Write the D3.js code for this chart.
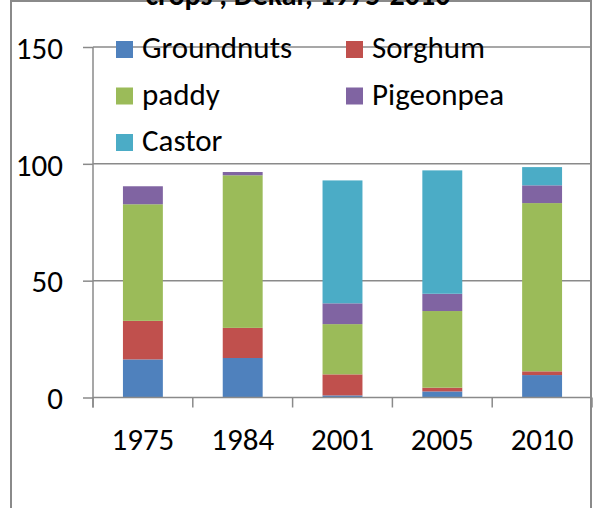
<!DOCTYPE html>
<html><head><meta charset="utf-8">
<script src="https://cdn.jsdelivr.net/npm/d3@7"></script>
<style>body{margin:0;background:#fff}svg{display:block}text{font-family:Carlito,Lato,"Open Sans",sans-serif}</style>
</head><body>
<svg id="c" width="593" height="508"></svg>
<script>
const years = ["1975","1984","2001","2005","2010"];
const seriesNames = ["Groundnuts","Sorghum","paddy","Pigeonpea","Castor"];
const groundnuts = [16.3, 16.9, 0.9, 2.6, 9.6];
const sorghum    = [16.5, 12.9, 9.0, 1.6, 1.6];
const paddy      = [49.9, 65.3, 21.5, 32.8, 72.0];
const pigeonpea  = [7.7, 1.4, 8.9, 7.4, 7.6];
const castor     = [0, 0, 52.6, 52.8, 7.8];
const yTicks = [0, 50, 100, 150];
const colors = ["#4F81BD","#C0504D","#9BBB59","#8064A2","#4BACC6"];
const titleText = "crops , Dekar, 1975-2010";

const svg = d3.select("#c");
const fs = 31;
const rows = years.map((y,i)=>({year:y, Groundnuts:groundnuts[i], Sorghum:sorghum[i], paddy:paddy[i], Pigeonpea:pigeonpea[i], Castor:castor[i]}));
const stack = d3.stack().keys(seriesNames)(rows);

const x = d3.scaleBand().domain(years).range([93, 592]).paddingInner(0.6).paddingOuter(0.3);
const y = d3.scaleLinear().domain([0,150]).range([397.5, 47]);
const color = d3.scaleOrdinal().domain(seriesNames).range(colors);
const grey = "#8a8a8a";

// frame
svg.append("path").attr("d","M11,508V1H591V508").attr("fill","none").attr("stroke",grey).attr("stroke-width",2);

// title (cut off at top)
svg.append("text").attr("x",298).attr("y",5).attr("text-anchor","middle").attr("font-weight","bold").attr("font-size",30).attr("fill","#000").text(titleText);

// gridlines
svg.append("g").selectAll("line").data(yTicks.filter(d=>d>0)).join("line")
  .attr("x1",93).attr("x2",592).attr("y1",d=>y(d)).attr("y2",d=>y(d)).attr("stroke",grey).attr("stroke-width",1.5);

// bars
svg.append("g").selectAll("g").data(stack).join("g").attr("fill",d=>color(d.key))
  .selectAll("rect").data(d=>d).join("rect")
  .attr("x",d=>x(d.data.year)).attr("width",x.bandwidth())
  .attr("y",d=>y(d[1])).attr("height",d=>y(d[0])-y(d[1]));

// y axis
const ya = svg.append("g").attr("transform","translate(93,0)").call(d3.axisLeft(y).tickValues(yTicks).tickSize(10).tickPadding(20));
ya.select(".domain").attr("d",`M0,${y(150)}V${y(0)+10}`);
ya.selectAll("line").attr("stroke",grey).attr("stroke-width",1.5);
ya.select(".domain").attr("stroke",grey).attr("stroke-width",1.5);
ya.selectAll("text").attr("font-size",fs).attr("fill","#000").attr("dy","0.36em").style("font-family","Carlito,Lato,sans-serif");

// x axis
const step = x.step();
const edges = d3.range(years.length+1).map(i=>x.range()[0]+i*step);
const xa = svg.append("g");
xa.append("line").attr("x1",93).attr("x2",592).attr("y1",y(0)).attr("y2",y(0)).attr("stroke",grey).attr("stroke-width",1.5);
xa.selectAll("line.t").data(edges).join("line").attr("class","t")
  .attr("x1",d=>d).attr("x2",d=>d).attr("y1",y(0)).attr("y2",y(0)+10).attr("stroke",grey).attr("stroke-width",1.5);
xa.selectAll("text").data(years).join("text")
  .attr("x",d=>x(d)+x.bandwidth()/2).attr("y",450).attr("text-anchor","middle").attr("font-size",fs).attr("fill","#000").text(d=>d);

// legend
const legPos = [[116,58],[346,58],[116,104.5],[346,104.5],[116,151]];
const leg = svg.append("g").selectAll("g").data(seriesNames).join("g")
  .attr("transform",(d,i)=>`translate(${legPos[i][0]},${legPos[i][1]})`);
leg.append("rect").attr("x",0).attr("y",-17).attr("width",17).attr("height",17).attr("fill",d=>color(d));
leg.append("text").attr("x",26).attr("y",0).attr("font-size",fs).attr("fill","#000").text(d=>d);
</script>
</body></html>
